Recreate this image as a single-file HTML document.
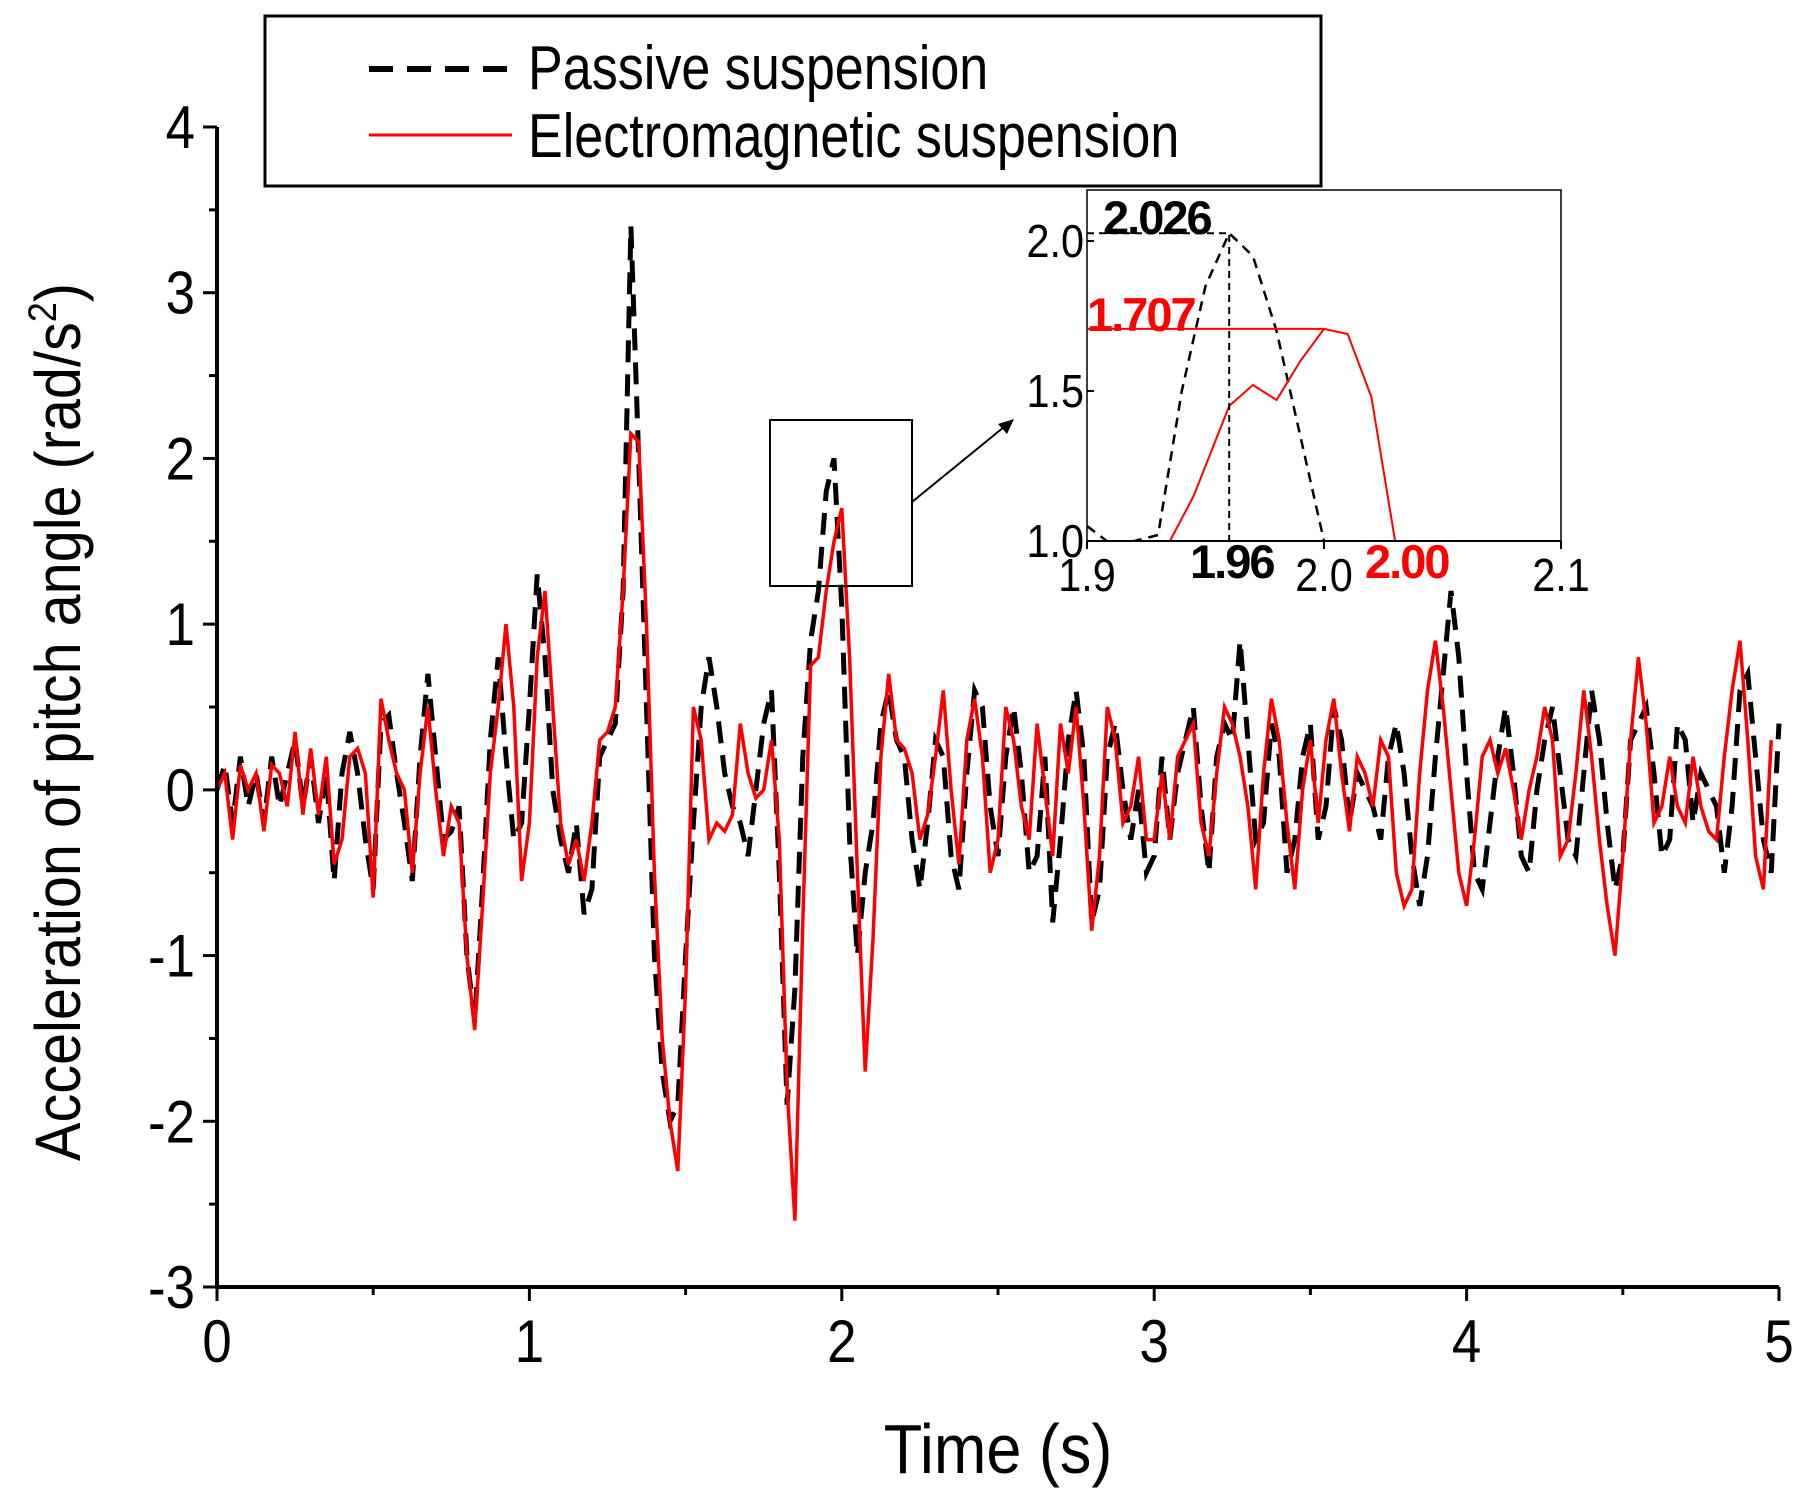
<!DOCTYPE html>
<html><head><meta charset="utf-8"><style>
html,body{margin:0;padding:0;background:#fff;}
svg{display:block;font-family:"Liberation Sans",Arial,sans-serif;}
</style></head><body>
<svg id="chart" width="1808" height="1501" viewBox="0 0 1808 1501">
<g id="main"></g>
<g id="inset"></g>
<g>
<rect x="265" y="16" width="1056" height="170" fill="#fff" stroke="#000" stroke-width="3"/>
<line x1="369" y1="69" x2="507" y2="69" stroke="#000" stroke-width="6" stroke-dasharray="24,14"/>
<text transform="translate(528,89) scale(0.84,1)" font-size="62">Passive suspension</text>
<line x1="369" y1="135" x2="512" y2="135" stroke="#f00" stroke-width="3"/>
<text transform="translate(528,157) scale(0.84,1)" font-size="62">Electromagnetic suspension</text>
</g>
<rect x="770" y="420" width="142" height="166" fill="none" stroke="#000" stroke-width="2"/>
<line x1="912" y1="502" x2="1004" y2="427" stroke="#000" stroke-width="2"/>
<polygon points="1014,419 998,424 1007,434" fill="#000"/>
<text transform="translate(998,1473) scale(0.9,1)" font-size="70" text-anchor="middle">Time (s)</text>
<text transform="translate(80,722) rotate(-90) scale(0.9,1)" font-size="64" text-anchor="middle">Acceleration of pitch angle (rad/s<tspan dy="-24" font-size="40">2</tspan><tspan dy="24">)</tspan></text>
</svg>
<script>
const dt = 0.025;
const passive = [0,0.15,-0.2,0.2,-0.1,0.1,-0.2,0.2,-0.1,0.1,0.3,-0.1,0.2,-0.2,0.1,-0.55,0.1,0.35,0.1,-0.3,
-0.6,0.4,0.45,0.1,-0.2,-0.55,0.2,0.7,0.2,-0.3,-0.25,-0.1,-1.0,-1.4,-0.6,0.3,0.8,0.2,-0.3,-0.2,
0.5,1.3,0.8,0.0,-0.3,-0.5,-0.2,-0.75,-0.6,0.2,0.3,0.4,1.2,3.4,2.0,0.5,-1.0,-1.7,-2.0,-1.9,
-1.0,-0.2,0.5,0.8,0.5,0.1,-0.1,-0.2,-0.4,0.0,0.4,0.6,-0.5,-1.9,-1.2,0.2,0.9,1.2,1.8,2.0,
1.1,-0.3,-1.0,-0.5,-0.2,0.4,0.6,0.3,0.2,-0.3,-0.6,-0.2,0.3,0.2,-0.4,-0.6,0.1,0.6,0.5,-0.1,
-0.4,0.2,0.5,0.1,-0.5,-0.4,0.2,-0.8,-0.3,0.3,0.6,0.2,-0.8,-0.6,0.2,0.4,0.0,-0.3,0.0,-0.5,
-0.4,0.2,-0.3,0.1,0.3,0.5,-0.1,-0.5,0.2,0.4,0.3,0.9,0.3,-0.3,-0.2,0.4,0.2,-0.5,-0.3,0.2,0.4,-0.3,-0.1,0.5,
0.3,-0.2,0.1,0.0,-0.1,-0.3,0.2,0.4,0.1,-0.4,-0.7,-0.4,0.2,0.7,1.2,0.8,0.1,-0.5,-0.6,-0.2,
0.2,0.5,0.1,-0.4,-0.5,0.0,0.3,0.5,0.1,-0.3,-0.4,0.1,0.6,0.3,-0.2,-0.6,-0.4,0.3,0.4,0.5,
0.1,-0.4,-0.3,0.4,0.3,-0.2,0.1,0.0,-0.1,-0.5,-0.1,0.6,0.7,0.2,-0.3,-0.5,0.4];
const electro = [0,0.1,-0.3,0.15,0.0,0.1,-0.25,0.15,0.1,-0.1,0.35,-0.15,0.25,-0.15,0.2,-0.45,-0.3,0.2,0.25,0.1,
-0.65,0.55,0.3,0.1,0.0,-0.5,0.1,0.5,0.0,-0.4,-0.1,-0.2,-1.0,-1.45,-0.7,0.1,0.5,1.0,0.5,-0.55,
-0.2,0.8,1.2,0.5,-0.2,-0.45,-0.3,-0.55,-0.2,0.3,0.35,0.5,1.2,2.15,2.1,1.0,-0.5,-1.5,-2.0,-2.3,
-1.2,0.5,0.3,-0.3,-0.2,-0.25,-0.15,0.4,0.1,-0.05,0.0,0.3,-0.3,-1.8,-2.6,-0.8,0.75,0.8,1.2,1.5,
1.7,0.8,-0.5,-1.7,-0.9,0.2,0.7,0.3,0.25,0.1,-0.3,-0.15,0.2,0.6,0.0,-0.45,0.3,0.55,0.2,-0.5,
-0.3,0.5,0.3,-0.1,-0.3,0.4,0.0,-0.4,0.4,0.1,0.5,-0.1,-0.85,-0.4,0.5,0.3,-0.2,-0.1,0.2,-0.3,
-0.3,0.1,-0.3,0.2,0.3,0.4,-0.2,-0.4,0.1,0.5,0.4,0.2,-0.1,-0.6,0.1,0.55,0.3,-0.2,-0.6,0.0,0.3,-0.2,0.3,
0.55,0.1,-0.25,0.2,0.1,-0.1,0.3,0.2,-0.5,-0.7,-0.6,0.1,0.6,0.9,0.5,0.0,-0.5,-0.7,-0.3,0.2,
0.3,0.1,0.25,0.0,-0.3,0.0,0.2,0.5,0.3,-0.4,-0.3,0.1,0.6,0.2,-0.3,-0.7,-1.0,-0.4,0.3,0.8,
0.4,-0.2,-0.1,0.2,-0.1,-0.2,0.2,-0.1,-0.25,-0.3,0.2,0.6,0.9,0.3,-0.4,-0.6,0.3];
const xTicks = [0,1,2,3,4,5];
const yTicks = [-3,-2,-1,0,1,2,3,4];
const insetT = [1.9,1.91,1.92,1.93,1.94,1.95,1.96,1.97,1.98,1.99,2.0];
const insetP = [1.05,0.99,1.0,1.02,1.5,1.85,2.026,1.95,1.7,1.35,1.0];
const insetTE = [1.935,1.945,1.96,1.97,1.98,1.99,2.0,2.01,2.02,2.03];
const insetE = [1.0,1.15,1.45,1.52,1.47,1.6,1.707,1.69,1.48,1.0];
const insetXTicks = [1.9,2.0,2.1];
const insetYTicks = ["1.0","1.5","2.0"];

const NS = "http://www.w3.org/2000/svg";
function mk(parent, tag, attrs){const e=document.createElementNS(NS,tag);for(const k in attrs)e.setAttribute(k,attrs[k]);parent.appendChild(e);return e;}
const X0=217,X1=1779,Y0=1287,Y1=127;
const xs = t => X0+(t-0)/(5-0)*(X1-X0);
const ys = v => Y0-(v+3)/7*(Y0-Y1);
const main=document.getElementById('main');

function seriesPath(arr,fx,fy){return arr.map((v,i)=>(i?'L':'M')+fx(i*dt).toFixed(1)+','+fy(v).toFixed(1)).join(' ');}
let p=mk(main,'path',{d:seriesPath(passive,xs,ys),fill:'none',stroke:'#000','stroke-width':5,'stroke-dasharray':'22,12'});


p=mk(main,'path',{d:seriesPath(electro,xs,ys),fill:'none',stroke:'#f00','stroke-width':3.5});



let ax=mk(main,'line',{x1:X0,y1:Y1,x2:X0,y2:Y0,stroke:'#000','stroke-width':4});


ax=mk(main,'line',{x1:X0,y1:Y0,x2:X1,y2:Y0,stroke:'#000','stroke-width':4});


xTicks.forEach((t,i)=>{
  mk(main,'line',{x1:xs(t),y1:Y0,x2:xs(t),y2:Y0+14,stroke:'#000','stroke-width':3});
  if(i<xTicks.length-1)mk(main,'line',{x1:xs(t+0.5),y1:Y0,x2:xs(t+0.5),y2:Y0+8,stroke:'#000','stroke-width':3});
  const tx=mk(main,'text',{transform:'translate('+xs(t)+','+(Y0+75)+') scale(0.88,1)','font-size':60,'text-anchor':'middle'});tx.textContent=t;
  
  
});
yTicks.forEach((v,i)=>{
  mk(main,'line',{x1:X0-14,y1:ys(v),x2:X0,y2:ys(v),stroke:'#000','stroke-width':3});
  if(i<yTicks.length-1)mk(main,'line',{x1:X0-8,y1:ys(v+0.5),x2:X0,y2:ys(v+0.5),stroke:'#000','stroke-width':3});
  const tx=mk(main,'text',{transform:'translate('+(X0-22)+','+(ys(v)+21)+') scale(0.88,1)','font-size':60,'text-anchor':'end'});tx.textContent=v;
  
  
});

// inset
const inset=document.getElementById('inset');
const IX0=1087,IX1=1561,IY0=541,IY1=190;
const ixs=t=>IX0+(t-1.9)/0.2*(IX1-IX0);
const iys=v=>IY0-(v-1.0)/1.0*(541-241);
let r=mk(inset,'rect',{x:IX0,y:IY1,width:IX1-IX0,height:IY0-IY1,fill:'#fff',stroke:'#000','stroke-width':1.5});


mk(inset,'defs',{}).innerHTML='<clipPath id="ic"><rect x="'+IX0+'" y="'+IY1+'" width="'+(IX1-IX0)+'" height="'+(IY0-IY1)+'"/></clipPath>';
const ig=mk(inset,'g',{'clip-path':'url(#ic)'});
let ip=mk(ig,'path',{d:insetT.map((t,i)=>(i?'L':'M')+ixs(t)+','+iys(insetP[i])).join(' '),fill:'none',stroke:'#000','stroke-width':2.5,'stroke-dasharray':'10,7'});


ip=mk(ig,'path',{d:insetTE.map((t,i)=>(i?'L':'M')+ixs(t)+','+iys(insetE[i])).join(' '),fill:'none',stroke:'#f00','stroke-width':2});


mk(ig,'path',{d:'M'+IX0+','+iys(2.026)+' H'+ixs(1.96)+' V'+IY0,fill:'none',stroke:'#000','stroke-width':2,'stroke-dasharray':'7,5'});
mk(ig,'line',{x1:IX0,y1:iys(1.707),x2:ixs(2.0),y2:iys(1.707),stroke:'#f00','stroke-width':2});
mk(inset,'line',{x1:IX0,y1:IY0,x2:IX1,y2:IY0,stroke:'#000','stroke-width':2});
insetXTicks.forEach(t=>{
  mk(inset,'line',{x1:ixs(t),y1:IY0,x2:ixs(t),y2:IY0+8,stroke:'#000','stroke-width':2});
  const tx=mk(inset,'text',{transform:'translate('+ixs(t)+','+(IY0+50)+') scale(0.9,1)','font-size':46,'text-anchor':'middle'});tx.textContent=t.toFixed(1);
  
  
});
insetYTicks.forEach(v=>{
  mk(inset,'line',{x1:IX0,y1:iys(+v),x2:IX0+7,y2:iys(+v),stroke:'#000','stroke-width':2});
  const tx=mk(inset,'text',{transform:'translate('+(IX0-3)+','+(iys(+v)+16)+') scale(0.9,1)','font-size':46,'text-anchor':'end'});tx.textContent=v;
  
  
});
[[1103,234,'2.026','#000'],[1087,331,'1.707','#f00'],[1190,578,'1.96','#000'],[1365,578,'2.00','#f00']].forEach(a=>{
  const tx=mk(inset,'text',{x:a[0],y:a[1],'font-size':47,'font-weight':'bold',fill:a[3],'letter-spacing':'-2'});tx.textContent=a[2];
  
  
});
</script>
</body></html>
